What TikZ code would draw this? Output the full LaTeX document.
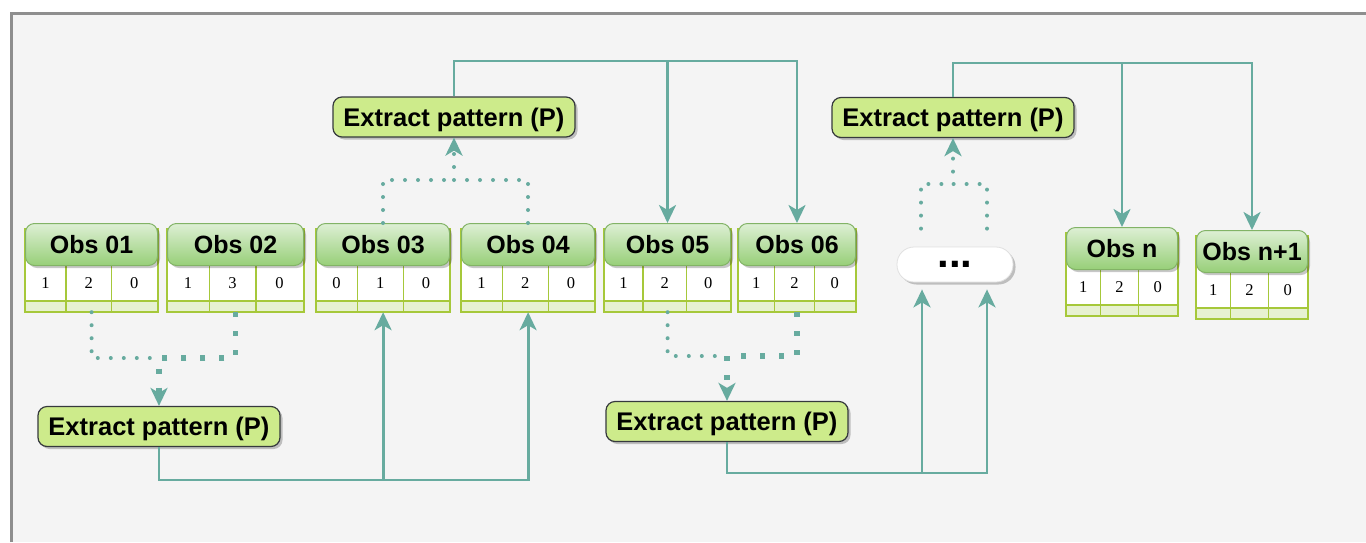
\documentclass[tikz,border=0pt]{standalone}
\usepackage{fontspec}
\setmainfont{Liberation Sans}
\newfontfamily\cellfont{Liberation Serif}
\usetikzlibrary{shadows,arrows.meta,calc}

\definecolor{canvas}{HTML}{F4F4F4}
\definecolor{framec}{HTML}{8E8E8E}
\definecolor{flowc}{HTML}{67AB9F}
\definecolor{headtop}{HTML}{DDEFD4}
\definecolor{headbot}{HTML}{97CF78}
\definecolor{headline}{HTML}{82B366}
\definecolor{gridline}{HTML}{A6C83A}
\definecolor{lowrow}{HTML}{E7F1D1}
\definecolor{epfill}{HTML}{CDEB8B}
\definecolor{epline}{HTML}{36393D}

\tikzset{
  softshadow/.style={drop shadow={shadow xshift=2.5pt, shadow yshift=-2.5pt, fill=black, opacity=0.22}},
  obshead/.style={rounded corners=9pt, draw=headline, line width=1pt,
    top color=headtop, bottom color=headbot, minimum height=42pt,
    inner sep=0pt, anchor=north west, softshadow, text height=18pt, text depth=0pt,
    font=\fontsize{25}{25}\selectfont\bfseries},
  obsbody/.style={draw=gridline, line width=1.2pt, fill=white, inner sep=0pt,
    anchor=north west, minimum height=82pt},
  cell/.style={inner sep=0pt, font=\cellfont\fontsize{16.5}{16.5}\selectfont},
  extract/.style={rounded corners=9pt, draw=epline, line width=1.2pt, fill=epfill,
    minimum width=242pt, minimum height=40pt, inner sep=0pt, softshadow,
    text height=18.4pt, text depth=0pt,
    font=\fontsize{25.5}{25.5}\selectfont\bfseries},
  pill/.style={rounded corners=17pt, draw=black!12, line width=0.8pt, fill=white,
    minimum width=116pt, minimum height=35pt, inner sep=0pt, softshadow,
    font=\fontsize{42}{42}\selectfont\bfseries},
  tip/.style={-{Stealth[length=18pt,width=17pt,inset=5pt]}},
  flow/.style={draw=flowc, line width=2.8pt, tip},
  dotsmall/.style={draw=flowc, line width=4pt, line cap=round, dash pattern=on 0pt off 13pt},
  dotlarge/.style={draw=flowc, line width=5.5pt, dash pattern=on 5pt off 14pt},
}

% one observation: header + three-cell table
% #1 name, #2 label, #3 left x, #4 right x, #5 top y, #6-#8 cell values
\newcommand\obsunit[8]{%
  \node[obsbody, minimum width={#4-#3}] (#1t) at (#3,#5+6) {};
  \fill[lowrow] (#3,#5+78) rectangle (#4,#5+88);
  \pgfmathsetmacro\cola{#3+0.31*(#4-#3)}
  \pgfmathsetmacro\colb{#3+0.655*(#4-#3)}
  \draw[gridline, line width=1.2pt]
    (#3,#5+78) -- (#4,#5+78)
    (\cola,#5+42) -- (\cola,#5+88)
    (\colb,#5+42) -- (\colb,#5+88)
    (#1t.north west) rectangle (#1t.south east);
  \node[obshead, minimum width={#4-#3}] (#1) at (#3,#5) {#2};
  \node[cell] (#1a) at ({(#3+\cola)/2},#5+60) {#6};
  \node[cell] (#1b) at ({(\cola+\colb)/2},#5+60) {#7};
  \node[cell] (#1c) at ({(\colb+#4)/2},#5+60) {#8};
}

\begin{document}
\begin{tikzpicture}[x=1pt, y=-1pt]
\useasboundingbox (0,0) rectangle (1366,542);
\fill[white] (0,0) rectangle (1366,542);
\fill[canvas] (10,12) rectangle (1366,542);
\draw[framec, line width=3pt] (11,542) -- (11,13) -- (1366,13);

% observations
\obsunit{o1}{Obs 01}{25}{157}{223}{1}{2}{0}
\obsunit{o2}{Obs 02}{167}{303}{223}{1}{3}{0}
\obsunit{o3}{Obs 03}{316}{449}{223}{0}{1}{0}
\obsunit{o4}{Obs 04}{461}{594}{223}{1}{2}{0}
\obsunit{o5}{Obs 05}{604}{730}{223}{1}{2}{0}
\obsunit{o6}{Obs 06}{738}{855}{223}{1}{2}{0}
\obsunit{on}{Obs n}{1066}{1177}{227}{1}{2}{0}
\obsunit{onn}{Obs n+1}{1196}{1307}{230}{1}{2}{0}

% pattern extraction steps
\node[extract] (ep1) at (159,426.5) {Extract pattern (P)};
\node[extract] (ep2) at (454,117) {Extract pattern (P)};
\node[extract] (ep3) at (953,117.5) {Extract pattern (P)};
\node[extract] (ep4) at (727,421.5) {Extract pattern (P)};
\node[pill] (dots) at (955,264.5) {...};

% routing levels
\coordinate (lowA) at (0,480);
\coordinate (highB) at (0,61);
\coordinate (lowC) at (0,473);
\coordinate (highD) at (0,63);
\coordinate (midA) at (0,358);
\coordinate (midB) at (0,180);
\coordinate (midC) at (0,184);
\coordinate (midD) at (0,356);
\coordinate (dl) at ($(dots.south)+(-33,0)$);
\coordinate (dr) at ($(dots.south)+(32,0)$);
\coordinate (ul) at ($(dots.north)+(-34,0)$);
\coordinate (ur) at ($(dots.north)+(32,0)$);

% extracted patterns feed later observations
\draw[flow] (ep1.south) |- (o4t.south |- lowA) -- (o4t.south);
\draw[flow] (o3t.south |- lowA) -- (o3t.south);
\draw[flow] (ep2.north) |- (o6.north |- highB) -- (o6.north);
\draw[flow] (o5.north |- highB) -- (o5.north);
\draw[flow, shorten >=7pt] (ep4.south) |- (dr |- lowC) -- (dr);
\draw[flow, shorten >=7pt] (dl |- lowC) -- (dl);
\draw[flow] (ep3.north) |- (onn.north |- highD) -- (onn.north);
\draw[flow] (on.north |- highD) -- (on.north);

% observations feeding each extraction
\draw[dotsmall] (o1t.south) |- (ep1.north |- midA);
\draw[dotlarge, tip] (o2t.south) |- (ep1.north |- midA) -- (ep1.north);
\draw[dotsmall] (o3.north) |- (ep2.south |- midB);
\draw[dotsmall, tip] (o4.north) |- (ep2.south |- midB) -- (ep2.south);
\draw[dotsmall, shorten <=18pt] (ul) |- (ep3.south |- midC);
\draw[dotsmall, tip, shorten <=18pt] (ur) |- (ep3.south |- midC) -- (ep3.south);
\draw[dotsmall] (o5t.south) |- (ep4.north |- midD);
\draw[dotlarge, tip] (o6t.south) |- (ep4.north |- midD) -- (ep4.north);
\end{tikzpicture}
\end{document}
